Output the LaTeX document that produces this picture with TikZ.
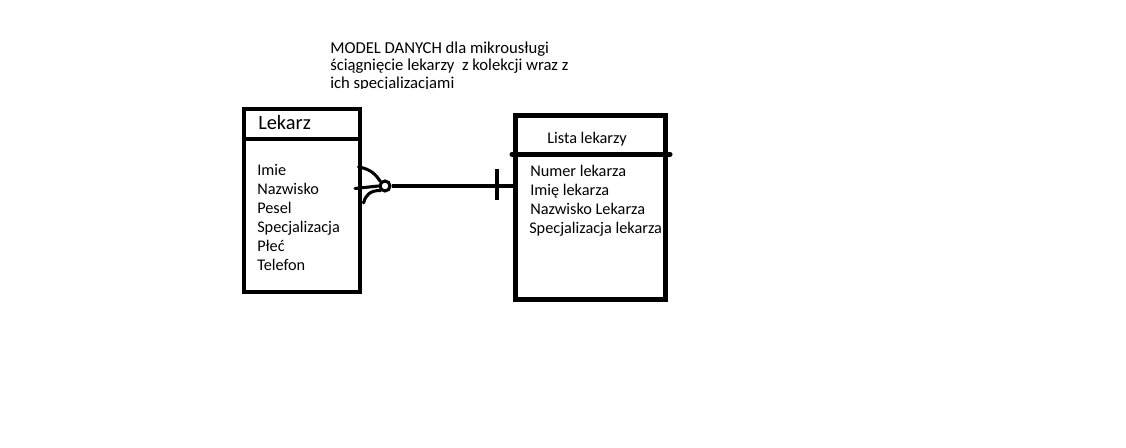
\documentclass[tikz,border=0pt]{standalone}
\usepackage{fontspec}
\setmainfont{Carlito}
\begin{document}
\begin{tikzpicture}[x=0.75pt,y=-0.75pt,
  lbl/.style={anchor=base west,inner sep=0pt,font=\fontsize{12.2pt}{14pt}\selectfont},
  ttl/.style={anchor=base west,inner sep=0pt,font=\fontsize{12.5pt}{14pt}\selectfont},
  entbox/.style={draw,rectangle,inner sep=0pt,fill=none},
  crow/.style={line width=2.3pt,line cap=round}]
\useasboundingbox[fill=white] (0,0) rectangle (1126,448);
% title (clipped at bottom like the reference)
\begin{scope}
\clip (300,30) rectangle (640,88.6);
\node[ttl] (t1) at (330,53.5) {MODEL DANYCH dla mikrousługi};
\node[ttl] (t2) at (330,71) {ściągnięcie lekarzy\ \ z kolekcji wraz z};
\node[ttl] (t3) at (330,88.3) {ich specjalizacjami};
\end{scope}
% Lekarz entity
\node[entbox,line width=3pt,minimum width=87.45pt,minimum height=136.8pt] (lekarz) at (302,200.5) {};
\coordinate (ldivl) at (243.7,139.3);
\coordinate (ldivr) at (360.3,139.3);
\draw[line width=3pt] (ldivl) -- (ldivr);
\node[lbl,font=\fontsize{15.3pt}{18pt}\selectfont] (lname) at (258,130) {Lekarz};
\node[lbl] (a1) at (257,176) {Imie};
\node[lbl] (a2) at (257,195) {Nazwisko};
\node[lbl] (a3) at (257,214) {Pesel};
\node[lbl] (a4) at (257,233) {Specjalizacja};
\node[lbl] (a5) at (257,252) {Płeć};
\node[lbl] (a6) at (257,271) {Telefon};
% Lista lekarzy entity
\node[entbox,line width=3.75pt,minimum width=112.5pt,minimum height=137.55pt] (lista) at (590.8,207.5) {};
\coordinate (rdivl) at (512,154.2);
\coordinate (rdivr) at (670,154.2);
\draw[line width=3.75pt,line cap=round] (rdivl) -- (rdivr);
\node[lbl] (rname) at (547,144) {Lista lekarzy};
\node[lbl] (b1) at (530,177) {Numer lekarza};
\node[lbl] (b2) at (530,196) {Imię lekarza};
\node[lbl] (b3) at (530,215) {Nazwisko Lekarza};
\node[lbl] (b4) at (529,234) {Specjalizacja lekarza};
% relationship: many (crow's foot with zero ring) to one
\node[draw,circle,line width=2.3pt,minimum size=7.5pt,inner sep=0pt] (ring) at (385,186) {};
\coordinate (cfu) at (358.5,167);
\coordinate (cfm) at (355,188.5);
\coordinate (cfl) at (363.5,203);
\draw[crow] (cfu) .. controls (371,169) and (376,175) .. (ring.north west);
\draw[crow] (cfm) -- (ring.west);
\draw[crow] (cfl) .. controls (365,196) and (370,190) .. (ring.south west);
\draw[line width=3pt] (ring.east) -- (lista.west |- ring.east);
\coordinate (tickt) at (497,169.5);
\coordinate (tickb) at (497,200);
\draw[line width=3pt] (tickt) -- (tickb);
\end{tikzpicture}
\end{document}
